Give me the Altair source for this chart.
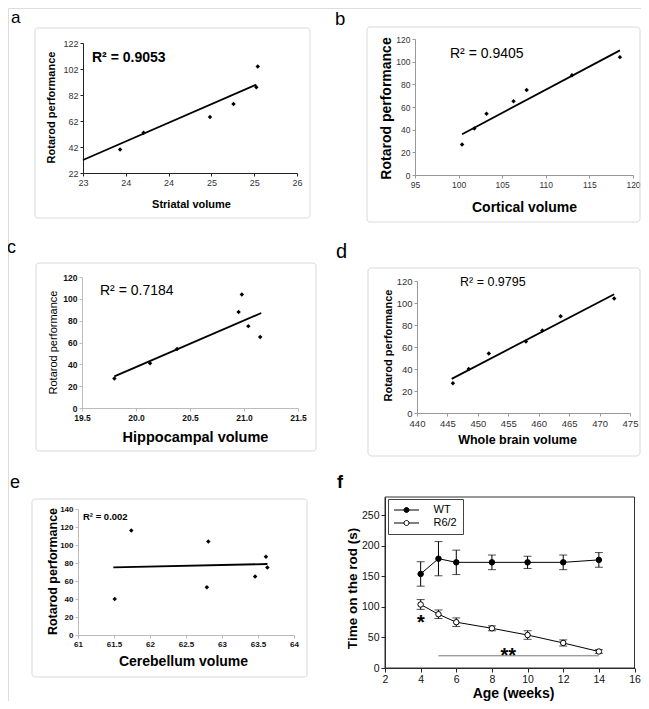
import altair as alt
import pandas as pd

# ---------------- data ----------------
striatal_vol = [23.52, 23.85, 24.78, 25.11, 25.43, 25.45]
striatal_perf = [40, 53, 65, 75, 88, 104]
striatal_fit_x = [23.0, 25.43]
striatal_fit_y = [32, 90]

cortical_vol = [100.4, 101.8, 103.2, 106.3, 107.8, 113.0, 118.5]
cortical_perf = [27, 41, 54, 65, 75, 88, 104]
cortical_fit_x = [100.4, 118.5]
cortical_fit_y = [36, 110]

hippo_vol = [19.80, 20.13, 20.38, 20.95, 20.98, 21.04, 21.15]
hippo_perf = [27, 41, 54, 88, 104, 75, 65]
hippo_fit_x = [19.80, 21.16]
hippo_fit_y = [29, 87]

brain_vol = [445.9, 448.5, 451.8, 457.9, 460.6, 463.6, 472.4]
brain_perf = [27, 40, 54, 65, 75, 88, 104]
brain_fit_x = [445.7, 472.4]
brain_fit_y = [31, 108]

cereb_vol = [61.51, 61.74, 62.79, 62.81, 63.46, 63.61, 63.63]
cereb_perf = [40, 116, 53, 104, 65, 87, 75]
cereb_fit_x = [61.49, 63.63]
cereb_fit_y = [75.2, 78.9]

ages = [4, 5, 6, 8, 10, 12, 14]
wt_mean = [154, 179, 173, 173, 173, 173, 177]
wt_sem = [20, 28, 20, 12, 10, 12, 12]
r62_mean = [104, 88, 75, 65, 54, 41, 27]
r62_sem = [8, 7, 7, 4, 7, 5, 3]
series_names = ["WT", "R6/2"]

sig_span = [5, 14]
sig_level = [20]
star_labels = ["*", "**"]
star_age = [4.02, 8.92]
star_time = [81.5, 28.3]

panel_letters = ["a", "b", "c", "d", "e", "f"]
r2_labels = ["R² = 0.9053", "R² = 0.9405", "R² = 0.7184", "R² = 0.9795", "R² = 0.002"]
x_titles = ["Striatal volume", "Cortical volume", "Hippocampal volume",
            "Whole brain volume", "Cerebellum volume", "Age (weeks)"]
y_titles = ["Rotarod performance"] * 5 + ["Time on the rod (s)"]

ticks_a_x = [23, 23.6, 24.2, 24.8, 25.4, 26]
ticks_a_y = [22, 42, 62, 82, 102, 122]
ticks_b_x = [95, 100, 105, 110, 115, 120]
ticks_c_x = [19.5, 20.0, 20.5, 21.0, 21.5]
ticks_d_x = [440, 445, 450, 455, 460, 465, 470, 475]
ticks_e_x = [61, 61.5, 62, 62.5, 63, 63.5, 64]
ticks_0_120 = [0, 20, 40, 60, 80, 100, 120]
ticks_0_140 = [0, 20, 40, 60, 80, 100, 120, 140]
ticks_f_x = [2, 4, 6, 8, 10, 12, 14, 16]
ticks_f_y = [0, 50, 100, 150, 200, 250]

# ---------------- layout helpers ----------------
FONT = "Liberation Sans"
W, H = 633, 693
M = 8  # page margin


def one_row():
    return pd.DataFrame({"k": [0]})


def text_layer(txt, x, y, size, weight="normal", align="left", color="black"):
    return alt.Chart(pd.DataFrame({"t": [txt]})).mark_text(
        font=FONT, fontSize=size, fontWeight=weight, align=align,
        baseline="alphabetic", color=color
    ).encode(x=alt.value(x - M), y=alt.value(y - M), text="t:N")


def box_layer(x0, y0, x1, y1, color="#d9d9d9", radius=3):
    return alt.Chart(one_row()).mark_rect(
        filled=False, stroke=color, strokeWidth=1, cornerRadius=radius
    ).encode(x=alt.value(x0 - M), x2=alt.value(x1 - M),
             y=alt.value(y0 - M), y2=alt.value(y1 - M))


def axes(xr, yr, xticks, yticks, xfmt, yfmt, xtitle, ytitle, xtp, ytp, st):
    common = dict(grid=False, labelFlush=False, labelOverlap=False, labelFont=FONT,
                  labelFontSize=st["lfs"], labelFontWeight=st["lfw"], labelColor=st["lc"],
                  domainColor=st["dc"], tickColor=st["dc"], tickSize=st["ts"],
                  domainWidth=1, tickWidth=1, labelPadding=2,
                  titleFont=FONT, titleColor="black", titleAlign="center",
                  titleBaseline="middle")
    xaxis = alt.Axis(orient="bottom", offset=yr[0] - H, values=xticks, format=xfmt,
                     title=xtitle, titleX=xtp[0] - M, titleY=xtp[1] - M - yr[0],
                     titleAngle=0, titleFontSize=st["xtfs"], titleFontWeight="bold",
                     **common)
    yaxis = alt.Axis(orient="left", offset=-xr[0], values=yticks, format=yfmt,
                     title=ytitle, titleX=ytp[0] - M - xr[0], titleY=ytp[1] - M,
                     titleAngle=270, titleFontSize=st["ytfs"],
                     titleFontWeight=st["ytfw"], **common)
    return xaxis, yaxis


def scatter_panel(xv, yv, fx, fy, xr, yr, xdom, ydom, xticks, yticks, xfmt, yfmt,
                  xtitle, ytitle, xtp, ytp, st):
    xs = alt.Scale(domain=xdom, range=xr, nice=False, zero=False)
    ys = alt.Scale(domain=ydom, range=yr, nice=False, zero=False)
    xaxis, yaxis = axes(xr, yr, xticks, yticks, xfmt, yfmt, xtitle, ytitle, xtp, ytp, st)
    pts = alt.Chart(pd.DataFrame({"v": xv, "p": yv})).mark_point(
        shape="diamond", filled=True, size=20, color="black", opacity=1
    ).encode(x=alt.X("v:Q", scale=xs, axis=xaxis), y=alt.Y("p:Q", scale=ys, axis=yaxis))
    fit = alt.Chart(pd.DataFrame({"v": fx, "p": fy})).mark_line(
        color="black", strokeWidth=1.8
    ).encode(x=alt.X("v:Q", scale=xs, axis=None), y=alt.Y("p:Q", scale=ys, axis=None))
    return [fit, pts]


layers = []

# panel boxes
layers += [
    box_layer(35, 28, 310, 218),
    box_layer(367, 27, 640, 222),
    box_layer(36, 263, 316, 451),
    box_layer(368, 268, 640, 456),
    box_layer(32, 499, 307, 677),
]

# ---- panel a ----
st_a = dict(lfs=9, lfw="normal", lc="#333", dc="#222", ts=3, xtfs=11, ytfs=11, ytfw="bold")
layers += scatter_panel(striatal_vol, striatal_perf, striatal_fit_x, striatal_fit_y,
                        [75, 289], [165, 35], [23, 26], [22, 122],
                        ticks_a_x, ticks_a_y, ".0f", "d", x_titles[0], y_titles[0],
                        (191, 204), (51, 107), st_a)

# ---- panel b ----
st_b = dict(lfs=8.5, lfw="normal", lc="#333", dc="#999", ts=3, xtfs=14, ytfs=14, ytfw="bold")
layers += scatter_panel(cortical_vol, cortical_perf, cortical_fit_x, cortical_fit_y,
                        [407, 625], [167, 31], [95, 120], [0, 120],
                        ticks_b_x, ticks_0_120, "d", "d", x_titles[1], y_titles[1],
                        (524, 207), (386, 108), st_b)

# ---- panel c ----
st_c = dict(lfs=8.5, lfw="bold", lc="#111", dc="#bbb", ts=3, xtfs=14.5, ytfs=11, ytfw="normal")
layers += scatter_panel(hippo_vol, hippo_perf, hippo_fit_x, hippo_fit_y,
                        [74, 290], [400, 269], [19.5, 21.5], [0, 120],
                        ticks_c_x, ticks_0_120, ".1f", "d", x_titles[2], y_titles[2],
                        (195, 437), (53, 342), st_c)

# ---- panel d ----
st_d = dict(lfs=9.5, lfw="normal", lc="#333", dc="#999", ts=3, xtfs=12.5, ytfs=11, ytfw="bold")
layers += scatter_panel(brain_vol, brain_perf, brain_fit_x, brain_fit_y,
                        [409, 622], [405, 273], [440, 475], [0, 120],
                        ticks_d_x, ticks_0_120, "d", "d", x_titles[3], y_titles[3],
                        (517, 439), (388, 345), st_d)

# ---- panel e ----
st_e = dict(lfs=8, lfw="bold", lc="#111", dc="#bbb", ts=3, xtfs=14, ytfs=12.5, ytfw="bold")
layers += scatter_panel(cereb_vol, cereb_perf, cereb_fit_x, cereb_fit_y,
                        [70, 286], [627, 501], [61, 64], [0, 140],
                        ticks_e_x, ticks_0_140, "~g", "d", x_titles[4], y_titles[4],
                        (183, 661), (52, 571), st_e)

# ---- panel f ----
fxr, fyr = [377, 626.5], [660, 489]
fxs = alt.Scale(domain=[2, 16], range=fxr, nice=False, zero=False)
fys = alt.Scale(domain=[0, 280], range=fyr, nice=False, zero=False)
st_f = dict(lfs=10.5, lfw="normal", lc="#111", dc="#222", ts=4, xtfs=14, ytfs=13.5, ytfw="bold")
f_xaxis, f_yaxis = axes(fxr, fyr, ticks_f_x, ticks_f_y, "d", "d", x_titles[5], y_titles[5],
                        (513, 693.5), (352, 588), st_f)

f_df = pd.DataFrame({
    "age": ages + ages,
    "mean": wt_mean + r62_mean,
    "lo": [m - s for m, s in zip(wt_mean, wt_sem)] + [m - s for m, s in zip(r62_mean, r62_sem)],
    "hi": [m + s for m, s in zip(wt_mean, wt_sem)] + [m + s for m, s in zip(r62_mean, r62_sem)],
    "series": [series_names[0]] * len(ages) + [series_names[1]] * len(ages),
})
cap_df = pd.concat([
    f_df[["age", "lo"]].rename(columns={"lo": "cap"}),
    f_df[["age", "hi"]].rename(columns={"hi": "cap"}),
], ignore_index=True)

fx_none = alt.X("age:Q", scale=fxs, axis=None)

f_frame = box_layer(385, 497, 634.5, 668, color="#333", radius=0)
sig_rule = alt.Chart(pd.DataFrame({"a0": [sig_span[0]], "a1": [sig_span[1]], "t": sig_level})).mark_rule(
    color="#777", strokeWidth=1
).encode(x=alt.X("a0:Q", scale=fxs, axis=None), x2="a1:Q",
         y=alt.Y("t:Q", scale=fys, axis=None))
err_rules = alt.Chart(f_df).mark_rule(color="black", strokeWidth=1).encode(
    x=fx_none, y=alt.Y("lo:Q", scale=fys, axis=None), y2="hi:Q")
err_caps = alt.Chart(cap_df).mark_tick(orient="horizontal", size=8, thickness=1, color="black").encode(
    x=fx_none, y=alt.Y("cap:Q", scale=fys, axis=None))
f_lines = alt.Chart(f_df).mark_line(color="black", strokeWidth=1).encode(
    x=fx_none, y=alt.Y("mean:Q", scale=fys, axis=None), detail="series:N")

legend_symbol = ("M-2.5,0L-0.5,0M0.5,0L2.5,0"
                 "M0.5,0A0.5,0.5,0,1,1,-0.5,0A0.5,0.5,0,1,1,0.5,0Z")
f_points = alt.Chart(f_df).mark_point(
    filled=True, size=30, stroke="black", strokeWidth=1, opacity=1
).encode(
    x=alt.X("age:Q", scale=fxs, axis=f_xaxis),
    y=alt.Y("mean:Q", scale=fys, axis=f_yaxis),
    fill=alt.Fill("series:N",
                  scale=alt.Scale(domain=series_names, range=["black", "white"]),
                  legend=alt.Legend(orient="none", legendX=380, legendY=491, title=None,
                                    symbolType=legend_symbol, symbolSize=100,
                                    symbolStrokeColor="black", symbolStrokeWidth=1,
                                    symbolOffset=7.5, labelOffset=21.5, padding=5.5,
                                    rowPadding=1, labelFont=FONT, labelFontSize=11,
                                    labelColor="black", strokeColor="#444",
                                    fillColor="white", cornerRadius=0)),
)
stars = alt.Chart(pd.DataFrame({"s": star_labels, "a": star_age, "t": star_time})).mark_text(
    font=FONT, fontSize=20, fontWeight="bold", align="center", baseline="alphabetic",
    dy=11, color="black"
).encode(x=alt.X("a:Q", scale=fxs, axis=None), y=alt.Y("t:Q", scale=fys, axis=None), text="s:N")

layers += [f_frame, sig_rule, err_rules, err_caps, f_lines, f_points, stars]

# ---- panel letters and R² labels ----
letter_pos = [(11, 23, 17), (335, 25, 18.5), (7, 253, 18), (336, 258, 20), (10, 488, 18), (337, 488, 18)]
for i, (lx, ly, ls) in enumerate(letter_pos):
    layers.append(text_layer(panel_letters[i], lx, ly, ls, "bold" if i == 5 else "normal"))

r2_pos = [(92, 62, 14, "bold"), (450, 58, 14, "normal"), (100, 295, 14, "normal"),
          (460, 286, 12.5, "normal"), (83, 520, 9.5, "bold")]
for i, (rx, ry, rs, rw) in enumerate(r2_pos):
    layers.append(text_layer(r2_labels[i], rx, ry, rs, rw))

chart = alt.layer(*layers).resolve_scale(
    x="independent", y="independent", fill="independent"
).properties(
    width=W, height=H, autosize=alt.AutoSizeParams(type="none"), padding=0,
    background="white"
).configure_view(stroke="transparent", strokeWidth=0).configure(font=FONT)

chart.save("out.html", embed_options={"renderer": "svg", "actions": False})
